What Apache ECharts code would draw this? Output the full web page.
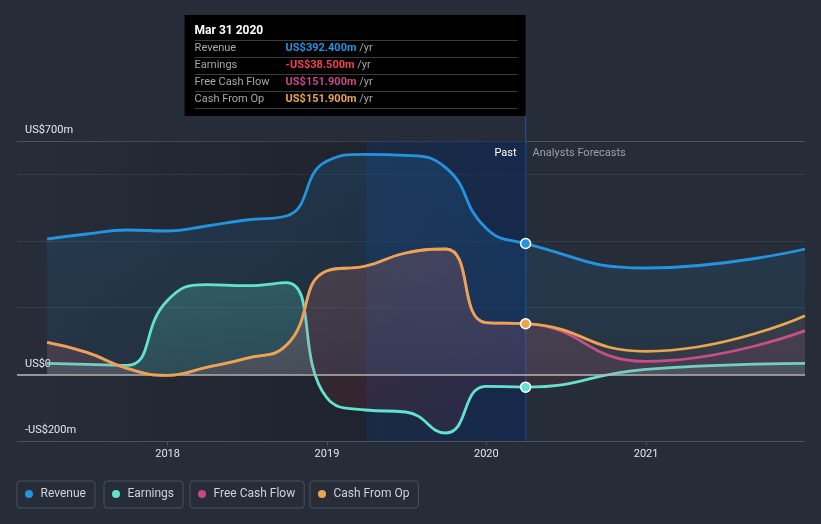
<!DOCTYPE html>
<html><head><meta charset="utf-8">
<script src="https://cdn.jsdelivr.net/npm/echarts@6/dist/echarts.min.js"></script>
<style>html,body{margin:0;padding:0;background:#262c38;}#c{width:821px;height:524px;}</style>
</head><body><div id="c"></div>
<script>
// ---- data ----
const pastDates = ['2017-03-31','2017-06-30','2017-09-30','2017-12-31','2018-03-31','2018-06-30','2018-09-30','2018-12-31','2019-03-31','2019-06-30','2019-09-30','2019-12-31','2020-03-31'];
const forecastDates = ['2020-12-31','2021-12-31'];
const revenue      = [406,421,433,430,445,463,475,639,660,657,620,439,392.4, 319,376];
const earnings     = [33,30,27,221,269,266,275,-69,-107,-113,-176,-36,-38.5, 15,33];
const freeCashFlow = [96,66,18,-3,21,48,87,310,325,364,376,155,151.9, 39,131];
const cashFromOp   = [96,66,18,-3,21,48,87,310,325,364,376,155,151.9, 69,176];
const seriesNames  = ['Revenue','Earnings','Free Cash Flow','Cash From Op'];
const yTickLabels  = {'700':'US$700m','0':'US$0','-200':'-US$200m'};
const xYearLabels  = ['2018','2019','2020','2021'];
const tooltipTitle = 'Mar 31 2020';

// ---- styles ----
const COLORS = ['#2394df','#63e3cf','#c8478a','#e9a650'];
const allDates = pastDates.concat(forecastDates);
const nowIdx = pastDates.length - 1;
const ts = d => { const p = d.split('-').map(Number); return +new Date(p[0], p[1]-1, p[2]); };
const YEAR = 365*24*3600*1000;

function seriesData(vals, color, marker){
  return allDates.map((d,i)=> (marker && i===nowIdx)
    ? {value:[ts(d), vals[i]], symbol:'circle', symbolSize:10, itemStyle:{color:color, borderColor:'#ffffff', borderWidth:1.5}}
    : [ts(d), vals[i]]);
}
const G = echarts.graphic.LinearGradient;
function rgba(hex,a){const n=parseInt(hex.slice(1),16);return `rgba(${n>>16},${(n>>8)&255},${n&255},${a})`;}

const chart = echarts.init(document.getElementById('c'));
const baseLine = (name, idx, vals, area, marker, extra) => Object.assign({
  name, type:'line', smooth:0.5, symbol:'none',
  data: seriesData(vals, COLORS[idx], marker),
  lineStyle:{color:COLORS[idx], width:2.8},
  itemStyle:{color:COLORS[idx]},
  areaStyle: area, z: 3+idx, silent:true
}, extra||{});

const option = {
  backgroundColor:'#262c38',
  animation:false,
  textStyle:{fontFamily:'Roboto'},
  grid:{left:17, right:16, top:141, bottom:83, containLabel:false},
  xAxis:{
    type:'time', min: ts('2017-01-21'), max: ts('2021-12-31'),
    minInterval: YEAR, maxInterval: YEAR*1.01,
    splitLine:{show:false},
    axisLine:{show:false, onZero:false},
    axisTick:{show:true, length:4, lineStyle:{color:'#4c525e'}},
    axisLabel:{color:'#e2e4e8', fontSize:11, margin:8, showMinLabel:false, showMaxLabel:false,
      formatter: v => { const d = new Date(v); const y = String(d.getFullYear()); return (d.getMonth()===0 && xYearLabels.includes(y)) ? y : ''; }}
  },
  yAxis:{
    type:'value', min:-200, max:700, interval:200,
    axisLine:{show:false}, axisTick:{show:false},
    splitLine:{lineStyle:{color:['#4a505c','#3a404c','#373d49','#373d49','#373d49','#4a505c'], width:1}},
    axisLabel:{inside:true, margin:8, verticalAlign:'bottom', padding:[0,0,5,0], color:'#e6e8ec', fontSize:11,
      formatter: v => yTickLabels[String(v)] || ''}
  },
  legend: seriesNames.map((n,i)=>({
    data:[n], left:[17,104,190,310][i], top:481, icon:'circle', itemWidth:13, itemHeight:8, itemGap:0,
    padding:[7,9,8,8], borderColor:'#4a505c', borderWidth:1, borderRadius:3, selectedMode:false,
    textStyle:{color:'#cfd3d8', fontSize:12, fontFamily:'Roboto'}
  })),
  series:[
    {name:'bands', type:'line', data:[], z:1, silent:true,
      markArea:{silent:true, data:[
        [{xAxis: ts(pastDates[0]), itemStyle:{color:new G(1,0,0,0,[{offset:0,color:'rgba(10,12,18,0.27)'},{offset:1,color:'rgba(10,12,18,0)'}])}}, {xAxis: ts(pastDates[8])}],
        [{xAxis: ts(pastDates[8]), itemStyle:{color:new G(0,0,1,0,[{offset:0,color:'rgba(8,38,90,0.36)'},{offset:1,color:'rgba(8,38,90,0.55)'}])}}, {xAxis: ts(pastDates[nowIdx])}]
      ]}},
    baseLine('Revenue',0,revenue,{color:new G(0,0,0,1,[{offset:0,color:rgba(COLORS[0],0.22)},{offset:1,color:rgba(COLORS[0],0.1)}])},true),
    baseLine('Earnings',1,earnings,{color:new G(0,0,0,1,[
      {offset:0,color:rgba(COLORS[1],0.32)},{offset:0.605,color:rgba(COLORS[1],0.22)},
      {offset:0.612,color:'rgba(215,55,55,0.17)'},{offset:1,color:'rgba(215,55,55,0.14)'}])},true),
    baseLine('Free Cash Flow',2,freeCashFlow,{color:rgba(COLORS[2],0.16)},false),
    baseLine('Cash From Op',3,cashFromOp,{color:new G(0,0,0,1,[{offset:0,color:rgba(COLORS[3],0.16)},{offset:1,color:rgba(COLORS[3],0.08)}])},true,
      {markLine:{silent:true, symbol:'none', label:{show:false}, lineStyle:{color:'#b4b6ba', width:1.5, type:'solid'}, data:[{yAxis:0}]}})
  ]
};
chart.setOption(option);

// tooltip-like annotation anchored on the "now" date
const px = chart.convertToPixel({xAxisIndex:0}, ts(pastDates[nowIdx]));
const yBottom = chart.convertToPixel({yAxisIndex:0}, -200);
const fmt = v => (v<0?'-':'') + 'US$' + Math.abs(v).toFixed(3) + 'm';
const rows = [
  ['Revenue', revenue[nowIdx], COLORS[0]],
  ['Earnings', earnings[nowIdx], earnings[nowIdx] < 0 ? '#f0434a' : COLORS[1]],
  ['Free Cash Flow', freeCashFlow[nowIdx], COLORS[2]],
  ['Cash From Op', cashFromOp[nowIdx], COLORS[3]]
];
const tipL = px - 341, tipT = 15;
const g = [
  {type:'line', shape:{x1:px, y1:tipT+100, x2:px, y2:yBottom}, style:{stroke:'#1f4f8f', lineWidth:1.2}, z:0},
  {type:'rect', shape:{x:tipL, y:tipT, width:341, height:101}, style:{fill:'#000000'}, z:10},
  {type:'text', x:tipL+10, y:tipT+16, z:11, style:{text:tooltipTitle, fill:'#ffffff', font:'bold 12px Roboto', verticalAlign:'middle'}},
];
for (let i=0;i<5;i++) g.push({type:'line', z:11, shape:{x1:tipL+10, y1:tipT+25.5+17*i, x2:px-8, y2:tipT+25.5+17*i}, style:{stroke:'#3c3c3c', lineWidth:1}});
rows.forEach((r,i)=>{
  const cy = tipT+33.5+17*i;
  g.push({type:'text', z:11, x:tipL+10, y:cy, style:{text:r[0], fill:'#a8a8a8', font:'11px Roboto', verticalAlign:'middle'}});
  g.push({type:'text', z:11, x:tipL+101, y:cy, style:{text:'{v|'+fmt(r[1])+'}{u| /yr}', verticalAlign:'middle',
    rich:{v:{fill:r[2], font:'bold 11px Roboto'}, u:{fill:'#a8a8a8', font:'11px Roboto'}}}});
});
g.push({type:'text', z:11, x:px-9, y:153, style:{text:'Past', fill:'#ffffff', font:'11px Roboto', align:'right', verticalAlign:'middle'}});
g.push({type:'text', z:11, x:px+7, y:153, style:{text:'Analysts Forecasts', fill:'#9aa0a8', font:'11px Roboto', align:'left', verticalAlign:'middle'}});
chart.setOption({graphic:{elements:g}});
</script></body></html>
